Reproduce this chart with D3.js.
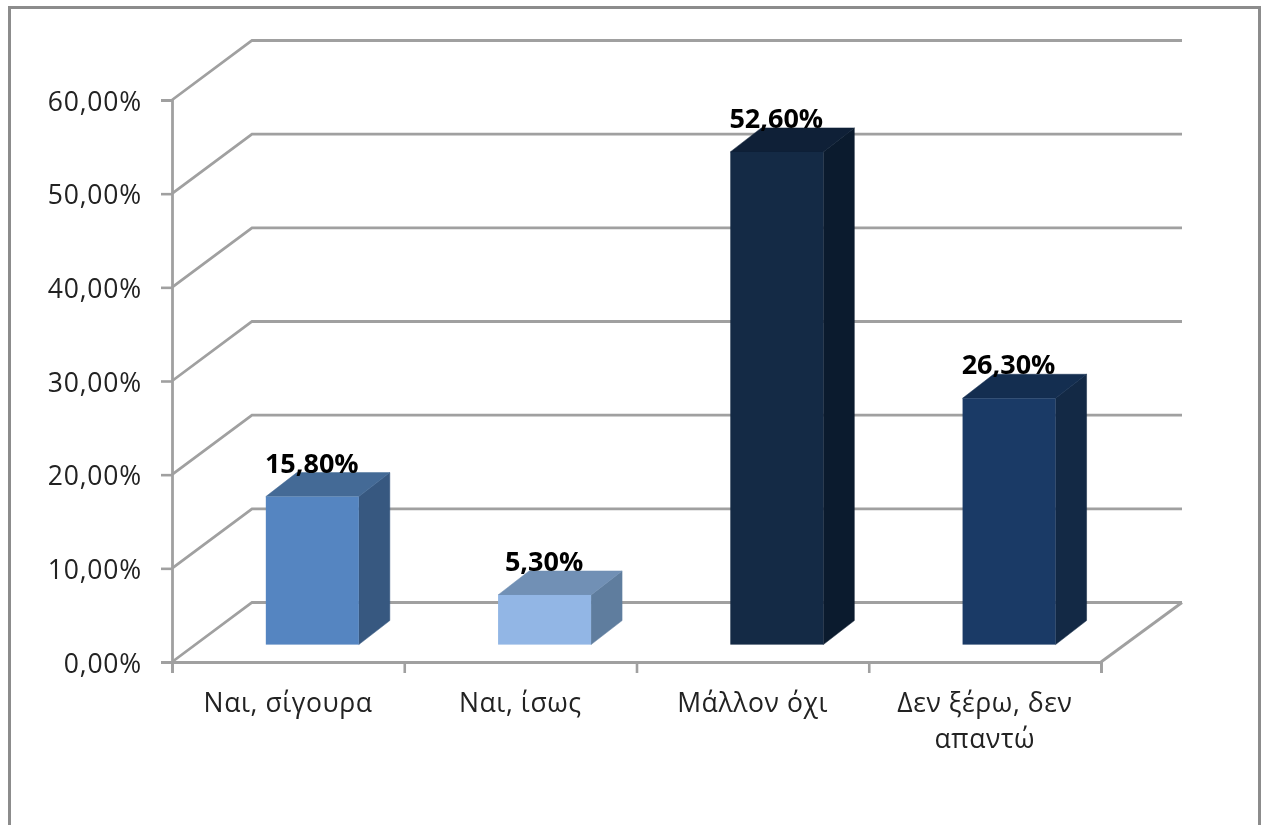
<!DOCTYPE html>
<html><head><meta charset="utf-8">
<script src="https://cdn.jsdelivr.net/npm/d3@7"></script>
<style>html,body{margin:0;padding:0;background:#fff;overflow:hidden}svg{display:block;filter:blur(0.5px)}text{font-family:"Open Sans","Noto Sans",sans-serif}</style>
</head><body><svg id="c" width="1264" height="825"></svg>
<script>
const categories = [["Ναι, σίγουρα"],["Ναι, ίσως"],["Μάλλον όχι"],["Δεν ξέρω, δεν","απαντώ"]];
const values = [15.8, 5.3, 52.6, 26.3];
const valueLabels = ["15,80%","5,30%","52,60%","26,30%"];
const tickValues = [0,10,20,30,40,50,60];
const tickLabels = ["0,00%","10,00%","20,00%","30,00%","40,00%","50,00%","60,00%"];
const frontColors = ["#5585c1","#92b6e5","#142a45","#1a3a66"];
const topColors = ["#446a96","#7190b5","#0f2037","#142e50"];
const sideColors = ["#375880","#5f7d9e","#0b1b2e","#132945"];

const svg = d3.select("#c");
const grey = "#a0a0a0";
const plotLeft = 172, plotRight = 1101, plotBottom = 662, plotTop = 100;
const wallDx = 80, wallDy = 59.5;          // depth of the chart box
const barDx = 31, barDy = 24;              // depth of each bar
const barW = 93, barOffX = 24.2, barOffY = 17.4; // bar position inside the box

svg.append("rect").attr("x",9.5).attr("y",7.5).attr("width",1250).attr("height",840)
  .attr("fill","#fff").attr("stroke","#8c8c8c").attr("stroke-width",3);

const y = d3.scaleLinear().domain([0,60]).range([plotBottom,plotTop]);
const idx = d3.scaleLinear().domain([0,4]).range([plotLeft,plotRight]);
const x = d3.scaleBand().domain(d3.range(categories.length)).range([plotLeft,plotRight]);

// gridlines: side wall + back wall
const line = d3.line();
svg.append("g").selectAll("path").data(tickValues).join("path")
  .attr("fill","none").attr("stroke",grey).attr("stroke-width",2.8)
  .attr("d",v=>line([[plotLeft,y(v)],[plotLeft+wallDx,y(v)-wallDy],[plotRight+wallDx+1,y(v)-wallDy]]));
// floor front-right edge
svg.append("path").attr("fill","none").attr("stroke",grey).attr("stroke-width",2.8)
  .attr("d",line([[plotRight,y(0)],[plotRight+wallDx+1,y(0)-wallDy]]));

// axes
const yAxis = svg.append("g").attr("transform",`translate(${plotLeft},0)`)
  .call(d3.axisLeft(y).tickValues(tickValues).tickSize(11).tickPadding(19)
    .tickFormat((d,i)=>tickLabels[i]));
const xAxis = svg.append("g").attr("transform",`translate(0,${plotBottom})`)
  .call(d3.axisBottom(idx).ticks(4).tickSize(11).tickFormat(""));
[yAxis,xAxis].forEach(a=>{
  a.selectAll("path.domain").attr("stroke",grey).attr("stroke-width",2.8);
  a.selectAll("line").attr("stroke",grey).attr("stroke-width",2.6);
});
yAxis.selectAll("text").attr("fill","#222").style("font-size","26.5px")
  .style("letter-spacing","0.8px").attr("dy","0.38em");

// bars
const g = svg.append("g");
values.forEach((v,i)=>{
  const x0 = x(i)+x.bandwidth()/2+barOffX-barW/2, x1 = x0+barW;
  const yt = y(v)-barOffY, yb = y(0)-barOffY;
  g.append("path").attr("fill",sideColors[i]).attr("stroke",sideColors[i]).attr("stroke-width",0.5)
    .attr("d",line([[x1,yt],[x1+barDx,yt-barDy],[x1+barDx,yb-barDy],[x1,yb]])+"Z");
  g.append("path").attr("fill",topColors[i]).attr("stroke",topColors[i]).attr("stroke-width",0.5)
    .attr("d",line([[x0,yt],[x0+barDx,yt-barDy],[x1+barDx,yt-barDy],[x1,yt]])+"Z");
  g.append("rect").attr("x",x0).attr("y",yt).attr("width",barW).attr("height",yb-yt)
    .attr("fill",frontColors[i]);
  svg.append("text").attr("x",(x0+x1)/2-0.5).attr("y",yt-24).attr("text-anchor","middle")
    .attr("fill","#000").style("font-size","27px").style("font-weight","700")
    .text(valueLabels[i]);
});

// category labels
categories.forEach((lines,i)=>{
  const t = svg.append("text").attr("text-anchor","middle").attr("fill","#222")
    .style("font-size","26.5px").style("letter-spacing","0.6px");
  lines.forEach((s,j)=>t.append("tspan").attr("x",x(i)+x.bandwidth()/2)
    .attr("y",plotBottom+50+j*36).text(s));
});
</script></body></html>
